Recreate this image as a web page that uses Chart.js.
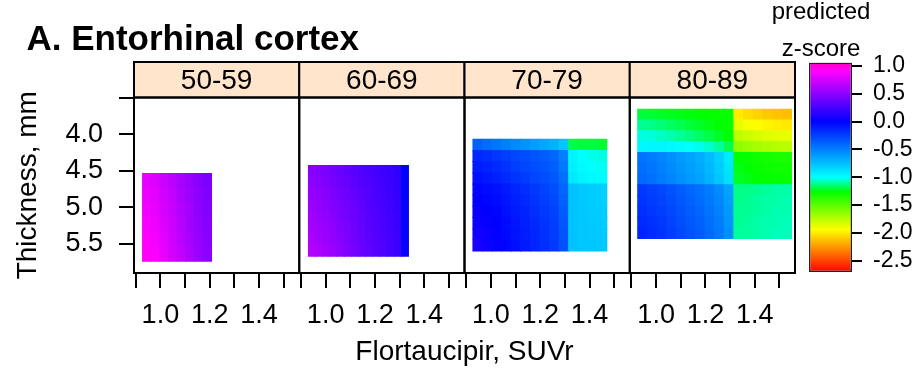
<!DOCTYPE html>
<html>
<head>
<meta charset="utf-8">
<script src="https://cdn.jsdelivr.net/npm/chart.js@4.4.1/dist/chart.umd.min.js"></script>
<style>
  html, body { margin: 0; padding: 0; background: #ffffff; }
  #wrap { position: relative; width: 915px; height: 375px; }
  #wrap canvas { position: absolute; left: 0; top: 0; width: 915px; height: 375px; }
</style>
</head>
<body>
<div id="wrap">
  <canvas id="frame" width="915" height="375"></canvas>
  <canvas id="p0" width="915" height="375"></canvas>
  <canvas id="p1" width="915" height="375"></canvas>
  <canvas id="p2" width="915" height="375"></canvas>
  <canvas id="p3" width="915" height="375"></canvas>
  <canvas id="key" width="915" height="375"></canvas>
</div>
<script>
// ---------------- data ----------------
const ageGroups = ['50-59', '60-69', '70-79', '80-89'];
const xTickLabels = ['1.0', '1.2', '1.4'];
const yTickLabels = ['4.0', '4.5', '5.0', '5.5'];
const keyTickLabels = ['1.0', '0.5', '0.0', '-0.5', '-1.0', '-1.5', '-2.0', '-2.5'];

// colour key: predicted z-score -> hue (degrees)
const keyZ   = [-2.7, -1.94, -1.26, -1.0, 0.0, 0.9, 1.06];
const keyHue = [0, 60, 120, 180, 240, 300, 315];

// 50-59
const suvr50 = [0.945, 0.98, 1.015, 1.05, 1.085, 1.12, 1.155, 1.19];
const thick50 = [4.64, 4.84, 5.04, 5.24, 5.44, 5.64];
const z50 = [
  [0.82, 0.78, 0.72, 0.66, 0.60, 0.54, 0.48, 0.44],
  [0.84, 0.80, 0.74, 0.68, 0.61, 0.55, 0.49, 0.45],
  [0.86, 0.82, 0.76, 0.70, 0.63, 0.57, 0.50, 0.46],
  [0.88, 0.84, 0.78, 0.72, 0.65, 0.58, 0.52, 0.47],
  [0.90, 0.86, 0.80, 0.73, 0.66, 0.60, 0.53, 0.48],
  [0.92, 0.88, 0.82, 0.75, 0.68, 0.61, 0.54, 0.49]
];

// 60-69
const suvr60 = [0.9445, 0.9735, 1.0025, 1.0315, 1.0605, 1.0895, 1.1185, 1.1475, 1.1765, 1.2055, 1.2345, 1.2635, 1.2925, 1.3215];
const thick60 = [4.5075, 4.6625, 4.8175, 4.9725, 5.1275, 5.2825, 5.4375, 5.5925];
const z60 = [
  [0.48, 0.46, 0.43, 0.40, 0.37, 0.34, 0.31, 0.28, 0.26, 0.24, 0.22, 0.20, 0.17, 0.00],
  [0.50, 0.48, 0.45, 0.42, 0.39, 0.36, 0.33, 0.30, 0.28, 0.25, 0.23, 0.20, 0.18, 0.01],
  [0.52, 0.50, 0.47, 0.44, 0.41, 0.38, 0.35, 0.32, 0.29, 0.26, 0.24, 0.21, 0.18, 0.01],
  [0.54, 0.52, 0.49, 0.46, 0.43, 0.40, 0.37, 0.33, 0.30, 0.27, 0.25, 0.22, 0.19, 0.02],
  [0.56, 0.54, 0.51, 0.48, 0.44, 0.41, 0.38, 0.34, 0.31, 0.28, 0.26, 0.23, 0.20, 0.02],
  [0.58, 0.56, 0.53, 0.50, 0.46, 0.43, 0.39, 0.35, 0.32, 0.29, 0.26, 0.23, 0.20, 0.03],
  [0.61, 0.58, 0.55, 0.52, 0.48, 0.44, 0.40, 0.36, 0.33, 0.30, 0.27, 0.24, 0.21, 0.03],
  [0.63, 0.60, 0.57, 0.53, 0.49, 0.45, 0.41, 0.37, 0.34, 0.31, 0.28, 0.24, 0.21, 0.04]
];

// 70-79
const suvr70 = [0.9464, 0.9852, 1.024, 1.0628, 1.1016, 1.1404, 1.1792, 1.218, 1.2568, 1.2956, 1.3344, 1.3732, 1.412, 1.4508];
const thick70 = [4.1465, 4.2995, 4.4525, 4.6055, 4.7585, 4.9115, 5.0645, 5.2175, 5.3705, 5.5235];
const z70 = [
  [-0.38, -0.42, -0.46, -0.50, -0.54, -0.58, -0.62, -0.66, -0.70, -0.78, -1.19, -1.20, -1.20, -1.21],
  [-0.15, -0.18, -0.21, -0.24, -0.27, -0.30, -0.33, -0.36, -0.40, -0.50, -0.96, -1.00, -1.02, -1.03],
  [-0.10, -0.13, -0.16, -0.20, -0.24, -0.27, -0.30, -0.33, -0.37, -0.47, -0.94, -0.98, -1.00, -1.01],
  [-0.06, -0.09, -0.12, -0.16, -0.20, -0.23, -0.27, -0.30, -0.34, -0.44, -0.92, -0.96, -0.98, -0.99],
  [-0.02, -0.04, -0.06, -0.10, -0.14, -0.18, -0.22, -0.26, -0.30, -0.40, -0.76, -0.79, -0.80, -0.81],
  [ 0.00, -0.02, -0.04, -0.08, -0.12, -0.16, -0.20, -0.24, -0.28, -0.38, -0.76, -0.79, -0.80, -0.81],
  [ 0.02,  0.00, -0.02, -0.06, -0.10, -0.14, -0.18, -0.22, -0.26, -0.36, -0.77, -0.79, -0.80, -0.80],
  [ 0.04,  0.02,  0.00, -0.04, -0.08, -0.12, -0.16, -0.20, -0.24, -0.34, -0.77, -0.78, -0.79, -0.80],
  [ 0.06,  0.04,  0.01, -0.03, -0.07, -0.11, -0.15, -0.19, -0.23, -0.33, -0.77, -0.78, -0.79, -0.79],
  [ 0.08,  0.05,  0.02, -0.02, -0.06, -0.10, -0.14, -0.18, -0.22, -0.32, -0.77, -0.78, -0.78, -0.79]
];

// 80-89
const suvr80 = [0.9445, 0.9835, 1.0225, 1.0615, 1.1005, 1.1395, 1.1785, 1.2175, 1.2565, 1.2955, 1.3345, 1.3735, 1.4125, 1.4515, 1.4905, 1.5295];
const thick80 = [3.7338, 3.8813, 4.0288, 4.1763, 4.3238, 4.4713, 4.6188, 4.7663, 4.9138, 5.0613, 5.2088, 5.3563];
const z80 = [
  [-1.20, -1.21, -1.22, -1.23, -1.24, -1.25, -1.26, -1.27, -1.28, -1.28, -2.00, -2.04, -2.07, -2.10, -2.12, -2.13],
  [-1.11, -1.12, -1.14, -1.16, -1.18, -1.20, -1.22, -1.24, -1.26, -1.28, -1.88, -1.92, -1.95, -1.97, -1.99, -2.00],
  [-1.03, -1.04, -1.06, -1.08, -1.10, -1.13, -1.16, -1.19, -1.22, -1.26, -1.76, -1.80, -1.83, -1.85, -1.87, -1.88],
  [-0.98, -0.97, -0.97, -0.98, -0.99, -1.00, -1.02, -1.05, -1.10, -1.18, -1.64, -1.67, -1.70, -1.72, -1.74, -1.75],
  [-0.45, -0.48, -0.52, -0.56, -0.60, -0.64, -0.68, -0.74, -0.82, -0.92, -1.26, -1.28, -1.30, -1.31, -1.32, -1.33],
  [-0.43, -0.46, -0.50, -0.54, -0.58, -0.62, -0.66, -0.72, -0.80, -0.90, -1.24, -1.26, -1.28, -1.29, -1.30, -1.30],
  [-0.41, -0.44, -0.48, -0.52, -0.56, -0.60, -0.64, -0.70, -0.78, -0.88, -1.22, -1.24, -1.26, -1.27, -1.28, -1.28],
  [-0.22, -0.25, -0.28, -0.32, -0.36, -0.40, -0.44, -0.49, -0.55, -0.64, -1.12, -1.12, -1.11, -1.10, -1.09, -1.09],
  [-0.20, -0.23, -0.26, -0.30, -0.34, -0.38, -0.42, -0.47, -0.53, -0.62, -1.12, -1.11, -1.10, -1.09, -1.09, -1.08],
  [-0.18, -0.21, -0.24, -0.28, -0.32, -0.36, -0.40, -0.45, -0.51, -0.60, -1.11, -1.11, -1.10, -1.09, -1.08, -1.08],
  [-0.16, -0.19, -0.22, -0.26, -0.30, -0.34, -0.38, -0.43, -0.49, -0.58, -1.11, -1.10, -1.09, -1.08, -1.08, -1.07],
  [-0.14, -0.17, -0.20, -0.24, -0.28, -0.32, -0.36, -0.41, -0.47, -0.56, -1.10, -1.10, -1.09, -1.08, -1.07, -1.07]
];

const panels = [
  { suvr: suvr50, thick: thick50, z: z50 },
  { suvr: suvr60, thick: thick60, z: z60 },
  { suvr: suvr70, thick: thick70, z: z70 },
  { suvr: suvr80, thick: thick80, z: z80 }
];

// ---------------- layout & style ----------------
const W = 915, H = 375;
const PANEL_X0 = 134, PANEL_X1 = 795;
const PANEL_W = (PANEL_X1 - PANEL_X0) / 4;
const STRIP_TOP = 62;
const AREA_BOTTOM = 273;
const SUVR_RANGE = [0.893, 1.563];
const THICK_RANGE = [3.5, 5.9];
const Z_RANGE = [-2.7, 1.06];
const FONT = "'Liberation Sans', Arial, Helvetica, sans-serif";

Chart.defaults.font.family = FONT;
Chart.defaults.color = '#000';

function hsvRgb(h) {
  h = ((h % 360) + 360) % 360;
  const i = Math.floor(h / 60), f = h / 60 - i;
  const q = 1 - f, t = f;
  const rgb = [[1, t, 0], [q, 1, 0], [0, 1, t], [0, q, 1], [t, 0, 1], [1, 0, q]][i];
  return 'rgb(' + rgb.map(v => Math.round(v * 255)).join(',') + ')';
}
function zColor(z) {
  if (z <= keyZ[0]) return hsvRgb(keyHue[0]);
  for (let i = 1; i < keyZ.length; i++) {
    if (z <= keyZ[i]) {
      const f = (z - keyZ[i - 1]) / (keyZ[i] - keyZ[i - 1]);
      return hsvRgb(keyHue[i - 1] + f * (keyHue[i] - keyHue[i - 1]));
    }
  }
  return hsvRgb(keyHue[keyHue.length - 1]);
}
function fmt1(v) { const s = (Math.round(v * 10) / 10).toFixed(1); return s === '-0.0' ? '0.0' : s; }

// strip background behind the title, frame lines on top
const stripFrame = {
  id: 'stripFrame',
  beforeDraw(chart) {
    const { ctx, chartArea: a } = chart;
    ctx.save();
    ctx.fillStyle = '#ffe5cc';
    ctx.fillRect(a.left, STRIP_TOP, a.right - a.left, a.top - STRIP_TOP);
    ctx.restore();
  },
  afterDraw(chart) {
    const { ctx, chartArea: a } = chart;
    ctx.save();
    ctx.strokeStyle = '#000';
    ctx.lineWidth = 2;
    ctx.strokeRect(a.left, STRIP_TOP, a.right - a.left, a.top - STRIP_TOP);
    ctx.strokeRect(a.left, a.top, a.right - a.left, a.bottom - a.top);
    ctx.restore();
  }
};

const common = { responsive: false, animation: false, devicePixelRatio: 1, events: [] };

// frame: main title, shared axis titles and thickness axis
new Chart(document.getElementById('frame'), {
  type: 'scatter',
  data: { datasets: [] },
  options: Object.assign({}, common, {
    layout: { padding: { left: 26.5, right: W - PANEL_X1, top: 19, bottom: 0 } },
    plugins: {
      legend: { display: false }, tooltip: { enabled: false },
      title: { display: true, text: 'A. Entorhinal cortex', align: 'start', color: '#000',
               font: { size: 35, weight: 'bold' }, padding: { top: 0, bottom: 36.5 } }
    },
    scales: {
      x: { type: 'linear', min: SUVR_RANGE[0], max: SUVR_RANGE[1],
           grid: { display: false }, border: { display: false }, ticks: { display: false },
           title: { display: true, text: 'Flortaucipir, SUVr', color: '#000', font: { size: 28, weight: 'normal' }, padding: { top: 0, bottom: 6.2 } },
           afterFit: s => { s.height = H - AREA_BOTTOM; } },
      y: { type: 'linear', reverse: true, min: THICK_RANGE[0], max: THICK_RANGE[1],
           grid: { drawOnChartArea: false, drawTicks: true, tickLength: 15, lineWidth: 2, color: '#000' },
           border: { display: false },
           ticks: { stepSize: 0.5, includeBounds: false, autoSkip: false, padding: 16, color: '#000', font: { size: 27 },
                    callback: v => { const s = fmt1(v); return yTickLabels.includes(s) ? s : ''; } },
           title: { display: true, text: 'Thickness, mm', color: '#000', font: { size: 28, weight: 'normal' }, padding: { top: -15.3, bottom: 0 } },
           afterFit: s => { s.width = PANEL_X0 - 26.5; } }
    }
  })
});

// one conditioning panel per age group
panels.forEach((p, k) => {
  const cells = [];
  const n = p.thick.length;
  for (let r = 0; r < n; r++) {
    const lo = r > 0 ? (p.thick[r - 1] + p.thick[r]) / 2 : p.thick[0] - (p.thick[1] - p.thick[0]) / 2;
    const hi = r < n - 1 ? (p.thick[r] + p.thick[r + 1]) / 2 : p.thick[n - 1] + (p.thick[n - 1] - p.thick[n - 2]) / 2;
    for (let c = 0; c < p.suvr.length; c++) {
      cells.push({ x: p.suvr[c], y: [lo, hi], z: p.z[r][c] });
    }
  }
  const left = PANEL_X0 + k * PANEL_W;
  new Chart(document.getElementById('p' + k), {
    type: 'bar',
    data: { datasets: [{
      data: cells,
      backgroundColor: ctx => (ctx.raw ? zColor(ctx.raw.z) : '#fff'),
      borderWidth: 0, barPercentage: 1, categoryPercentage: 1, inflateAmount: 0.45
    }] },
    options: Object.assign({}, common, {
      layout: { padding: { left: left, right: W - (left + PANEL_W), top: STRIP_TOP, bottom: 0 } },
      plugins: {
        legend: { display: false }, tooltip: { enabled: false },
        title: { display: true, text: ageGroups[k], color: '#000', font: { size: 28, weight: 'normal' }, padding: { top: 2, bottom: -0.1 } }
      },
      scales: {
        x: { type: 'linear', min: SUVR_RANGE[0], max: SUVR_RANGE[1], offset: false,
             grid: { offset: false, drawOnChartArea: false, drawTicks: true, tickLength: 15, lineWidth: 2, color: '#000' },
             border: { display: false },
             ticks: { stepSize: 0.1, includeBounds: false, autoSkip: false, maxRotation: 0, minRotation: 0, padding: 11,
                      color: '#000', font: { size: 27 },
                      callback: v => { const s = fmt1(v); return xTickLabels.includes(s) ? s : ''; } },
             afterFit: s => { s.height = H - AREA_BOTTOM; } },
        y: { type: 'linear', reverse: true, min: THICK_RANGE[0], max: THICK_RANGE[1], display: false }
      }
    }),
    plugins: [stripFrame]
  });
});

// colour key
new Chart(document.getElementById('key'), {
  type: 'bar',
  data: { labels: ['z'], datasets: [{
    data: [[Z_RANGE[0], Z_RANGE[1]]],
    yAxisID: 'y',
    backgroundColor: ctx => {
      const chart = ctx.chart;
      if (!chart.chartArea) return '#fff';
      const y = chart.scales.y;
      const y0 = y.getPixelForValue(keyZ[0]), y1 = y.getPixelForValue(keyZ[keyZ.length - 1]);
      const g = chart.ctx.createLinearGradient(0, y0, 0, y1);
      keyZ.forEach((z, i) => g.addColorStop((z - keyZ[0]) / (keyZ[keyZ.length - 1] - keyZ[0]), hsvRgb(keyHue[i])));
      return g;
    },
    borderColor: '#222', borderWidth: 1.5, borderSkipped: false,
    barPercentage: 1, categoryPercentage: 1, inflateAmount: 0
  }] },
  options: Object.assign({}, common, {
    layout: { padding: { left: 727, right: 0, top: 0, bottom: H - 272 } },
    plugins: {
      legend: { display: false }, tooltip: { enabled: false },
      title: { display: true, text: ['predicted', 'z-score'], color: '#000',
               font: { size: 24, weight: 'normal', lineHeight: 1.54 }, padding: { top: -6, bottom: -5.5 } }
    },
    scales: {
      x: { display: false, offset: true },
      yl: { position: 'left', type: 'linear', display: true, grid: { display: false }, border: { display: false },
            ticks: { display: false }, afterFit: s => { s.width = 82; } },
      y: { position: 'right', type: 'linear', min: Z_RANGE[0], max: Z_RANGE[1],
           grid: { drawOnChartArea: false, drawTicks: true, tickLength: 10, lineWidth: 2, color: '#000' },
           border: { display: false },
           ticks: { stepSize: 0.5, includeBounds: false, autoSkip: false, padding: 11, color: '#000', font: { size: 23 },
                    callback: v => { const s = fmt1(v); return keyTickLabels.includes(s) ? s : ''; } },
           afterFit: s => { s.width = 63; } }
    }
  })
});
</script>
</body>
</html>
